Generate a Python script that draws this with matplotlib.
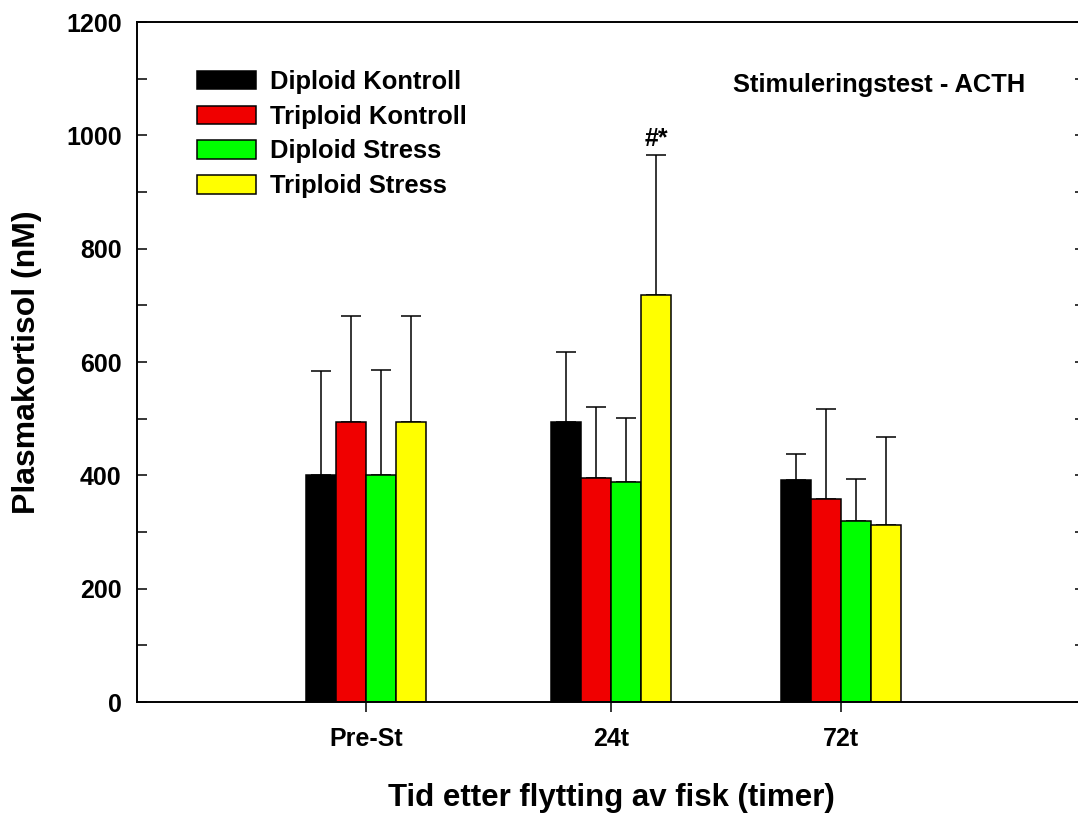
import numpy as np
import matplotlib
matplotlib.use("Agg")
import matplotlib.pyplot as plt
from matplotlib.patches import Patch
from matplotlib.ticker import MultipleLocator

plt.rcParams['font.family'] = ['Liberation Sans', 'DejaVu Sans']
plt.rcParams['font.weight'] = 'bold'

# Data (nM)
timepoints = ['Pre-St', '24t', '72t']
series_names = ['Diploid Kontroll', 'Triploid Kontroll', 'Diploid Stress', 'Triploid Stress']
diploid_kontroll = [401, 494, 391]
triploid_kontroll = [494, 396, 358]
diploid_stress = [401, 388, 320]
triploid_stress = [494, 719, 313]
err_diploid_kontroll = [184, 123, 46]
err_triploid_kontroll = [187, 125, 159]
err_diploid_stress = [185, 113, 74]
err_triploid_stress = [187, 247, 155]
colors = ['#000000', '#f00000', '#00ff00', '#ffff00']

means = [diploid_kontroll, triploid_kontroll, diploid_stress, triploid_stress]
errs = [err_diploid_kontroll, err_triploid_kontroll, err_diploid_stress, err_triploid_stress]

# group centres (the original spacing is slightly uneven)
group_x = np.array([1.0, 2.0, 2.94])
width = 0.1224

fig = plt.figure(figsize=(10.78, 8.14), dpi=100)
ax = fig.add_axes([137/1078, 112/814, 948/1078, 680/814])

for i, (m, e, c) in enumerate(zip(means, errs, colors)):
    xs = group_x + (i - 1.5) * width
    ax.bar(xs, m, width=width, color=c, edgecolor='black', linewidth=1.1, zorder=2)
    ax.errorbar(xs, m, yerr=[np.zeros(len(m)), e], fmt='none', ecolor='black',
                elinewidth=1.1, capsize=7.2, capthick=1.1, zorder=1)

# significance mark above triploid stress at 24t
xi = group_x[1] + 1.5 * width
ax.annotate('#*', xy=(xi, triploid_stress[1] + err_triploid_stress[1]), xytext=(0, 6),
            textcoords='offset points', ha='center', va='baseline', fontsize=18, fontweight='bold')

ax.set_xlim(0.0653, 3.935)
ax.set_ylim(0, 1200)
ax.set_xticks(group_x)
ax.set_xticklabels(timepoints)
ax.yaxis.set_major_locator(MultipleLocator(200))
ax.yaxis.set_minor_locator(MultipleLocator(100))
ax.tick_params(axis='x', direction='out', length=7.2, width=1.1, labelsize=18, pad=11)
ax.tick_params(axis='y', which='both', direction='in', length=7.2, width=1.1,
               labelsize=18, pad=11, right=True)
for lab in ax.get_xticklabels() + ax.get_yticklabels():
    lab.set_fontweight('bold')
for sp in ax.spines.values():
    sp.set_linewidth(1.4)

ax.set_xlabel('Tid etter flytting av fisk (timer)', fontsize=22.5, fontweight='bold', labelpad=23)
ax.set_ylabel('Plasmakortisol (nM)', fontsize=23, fontweight='bold', labelpad=17)

handles = [Patch(facecolor=c, edgecolor='black', linewidth=1.1) for c in colors]
ax.legend(handles, series_names, loc='upper left', bbox_to_anchor=((197-137)/948, (702-70)/680),
          frameon=False, handlelength=2.3, handleheight=0.74,
          handletextpad=0.55, labelspacing=0.42, borderpad=0, borderaxespad=0,
          prop={'weight': 'bold', 'size': 18.4})

ax.text((733-137)/948, (702-92)/680, 'Stimuleringstest - ACTH', transform=ax.transAxes,
        ha='left', va='baseline', fontsize=18.4, fontweight='bold')

fig.savefig('out.png', dpi=100)
